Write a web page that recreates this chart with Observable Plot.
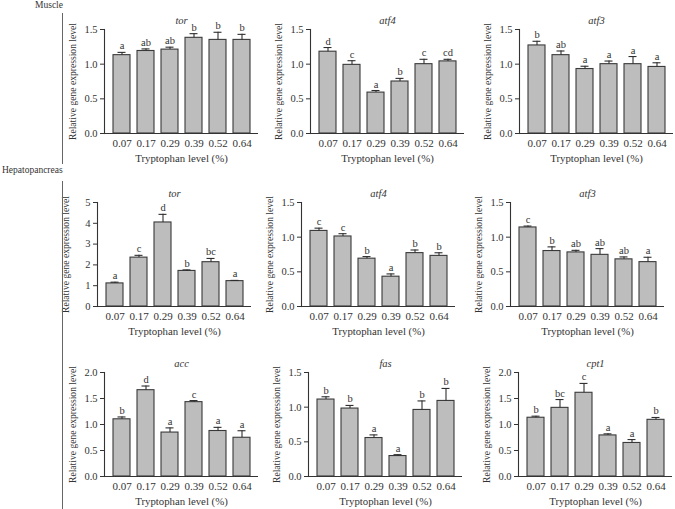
<!DOCTYPE html>
<html>
<head>
<meta charset="utf-8">
<script src="https://cdn.jsdelivr.net/npm/d3@7"></script>
<script src="https://cdn.jsdelivr.net/npm/@observablehq/plot@0.6"></script>
<style>
  body { margin: 0; background: #fff; }
  #fig { position: relative; width: 675px; height: 509px; background: #fff; overflow: hidden;
         font-family: "Liberation Serif", "DejaVu Serif", serif; color: #333; }
  .panel { position: absolute; }
  .section { position: absolute; font-size: 9.5px; line-height: 1; color: #333; }
  .divider { position: absolute; width: 1px; background: #666; }
</style>
</head>
<body>
<div id="fig"></div>
<script>
// Tryptophan levels (%) shared by every panel
const levels = ["0.07", "0.17", "0.29", "0.39", "0.52", "0.64"];

// Muscle
const muscleTorMean = [1.13, 1.19, 1.21, 1.38, 1.35, 1.35];
const muscleTorErr = [0.04, 0.03, 0.035, 0.06, 0.11, 0.08];
const muscleTorSig = ["a", "ab", "ab", "b", "b", "b"];

const muscleAtf4Mean = [1.18, 0.99, 0.59, 0.75, 1.00, 1.04];
const muscleAtf4Err = [0.06, 0.06, 0.03, 0.045, 0.07, 0.03];
const muscleAtf4Sig = ["d", "c", "a", "b", "c", "cd"];

const muscleAtf3Mean = [1.27, 1.13, 0.93, 1.00, 1.00, 0.96];
const muscleAtf3Err = [0.06, 0.06, 0.04, 0.045, 0.11, 0.06];
const muscleAtf3Sig = ["b", "ab", "a", "a", "a", "a"];

// Hepatopancreas
const hepTorMean = [1.11, 2.35, 4.04, 1.71, 2.13, 1.22];
const hepTorErr = [0.06, 0.11, 0.39, 0.05, 0.18, 0.035];
const hepTorSig = ["a", "c", "d", "b", "bc", "a"];

const hepAtf4Mean = [1.09, 1.01, 0.69, 0.43, 0.77, 0.73];
const hepAtf4Err = [0.04, 0.04, 0.03, 0.04, 0.045, 0.045];
const hepAtf4Sig = ["c", "c", "b", "a", "b", "b"];

const hepAtf3Mean = [1.14, 0.80, 0.78, 0.745, 0.68, 0.64];
const hepAtf3Err = [0.02, 0.06, 0.03, 0.09, 0.035, 0.07];
const hepAtf3Sig = ["c", "b", "ab", "ab", "ab", "a"];

const hepAccMean = [1.10, 1.66, 0.845, 1.43, 0.875, 0.745];
const hepAccErr = [0.045, 0.08, 0.09, 0.03, 0.07, 0.135];
const hepAccSig = ["b", "d", "a", "c", "a", "a"];

const hepFasMean = [1.11, 0.98, 0.555, 0.295, 0.96, 1.09];
const hepFasErr = [0.04, 0.045, 0.045, 0.02, 0.13, 0.18];
const hepFasSig = ["b", "b", "a", "a", "b", "b"];

const hepCpt1Mean = [1.13, 1.32, 1.61, 0.79, 0.645, 1.09];
const hepCpt1Err = [0.03, 0.16, 0.18, 0.03, 0.065, 0.045];
const hepCpt1Sig = ["b", "bc", "c", "a", "a", "b"];

// y-axis tick sets
const ticks15 = [0, 0.5, 1.0, 1.5];
const ticks20 = [0, 0.5, 1.0, 1.5, 2.0];
const ticks5 = [0, 1, 2, 3, 4, 5];

const xTitle = "Tryptophan level (%)";
const yTitle = "Relative gene expression level";

const panels = [
  {gene: "tor",  mean: muscleTorMean,  err: muscleTorErr,  sig: muscleTorSig,  ticks: ticks15, fmt: ".1f", axisX: 104, frameTop: 29},
  {gene: "atf4", mean: muscleAtf4Mean, err: muscleAtf4Err, sig: muscleAtf4Sig, ticks: ticks15, fmt: ".1f", axisX: 310, frameTop: 29},
  {gene: "atf3", mean: muscleAtf3Mean, err: muscleAtf3Err, sig: muscleAtf3Sig, ticks: ticks15, fmt: ".1f", axisX: 519, frameTop: 29},
  {gene: "tor",  mean: hepTorMean,  err: hepTorErr,  sig: hepTorSig,  ticks: ticks5,  fmt: "d",   axisX: 97,  frameTop: 202},
  {gene: "atf4", mean: hepAtf4Mean, err: hepAtf4Err, sig: hepAtf4Sig, ticks: ticks15, fmt: ".1f", axisX: 301, frameTop: 202},
  {gene: "atf3", mean: hepAtf3Mean, err: hepAtf3Err, sig: hepAtf3Sig, ticks: ticks15, fmt: ".1f", axisX: 510, frameTop: 202},
  {gene: "acc",  mean: hepAccMean,  err: hepAccErr,  sig: hepAccSig,  ticks: ticks20, fmt: ".1f", axisX: 104, frameTop: 372},
  {gene: "fas",  mean: hepFasMean,  err: hepFasErr,  sig: hepFasSig,  ticks: ticks15, fmt: ".1f", axisX: 308, frameTop: 372},
  {gene: "cpt1", mean: hepCpt1Mean, err: hepCpt1Err, sig: hepCpt1Sig, ticks: ticks20, fmt: ".1f", axisX: 518, frameTop: 372}
];

const fig = document.getElementById("fig");
const ink = "#333";
const M = {left: 50, right: 6, top: 26, bottom: 36};
const frameW = 154, frameH = 104;

for (const p of panels) {
  const rows = levels.map((level, i) => ({level, mean: p.mean[i], hi: p.mean[i] + p.err[i], sig: p.sig[i]}));
  const yMax = p.ticks[p.ticks.length - 1];
  const chart = Plot.plot({
    width: M.left + frameW + M.right,
    height: M.top + frameH + M.bottom,
    marginLeft: M.left, marginRight: M.right, marginTop: M.top, marginBottom: M.bottom,
    style: {fontFamily: "'Liberation Serif', serif", fontSize: "10px", color: ink, background: "transparent"},
    x: {domain: levels, paddingInner: 0.31, paddingOuter: 0.35, axis: null},
    y: {domain: [0, yMax], axis: null},
    marks: [
      Plot.barY(rows, {x: "level", y: "mean", fill: "#bdbdbd", stroke: "#3a3a3a", strokeWidth: 1.1}),
      Plot.ruleX(rows, {x: "level", y1: "mean", y2: "hi", stroke: "#2e2e2e", strokeWidth: 1.1}),
      Plot.tickY(rows, {x: "level", y: "hi", stroke: "#2e2e2e", strokeWidth: 1.1, insetLeft: 4.5, insetRight: 4.5}),
      Plot.text(rows, {x: "level", y: "hi", text: "sig", dy: -3, lineAnchor: "bottom", fill: ink, fontSize: 10.5}),
      Plot.ruleY([0], {stroke: "#333", strokeWidth: 1.1}),
      Plot.frame({anchor: "left", stroke: "#333", strokeWidth: 1.1}),
      Plot.axisY({ticks: p.ticks, tickFormat: d3.format(p.fmt), tickSize: 4, tickPadding: 3, label: null, fontSize: 10.5, stroke: "#333"}),
      Plot.axisX({tickSize: 0, tickPadding: 6, label: null, fontSize: 11}),
      Plot.text([p.gene], {frameAnchor: "top", dy: -13, text: d => d, fontStyle: "italic", fontSize: 10.5, fill: ink}),
      Plot.text([xTitle], {frameAnchor: "bottom", dy: 28, text: d => d, fontSize: 10.8, fill: ink}),
      Plot.text([yTitle], {frameAnchor: "left", textAnchor: "middle", dx: -32, rotate: -90, text: d => d, fontSize: 9.6, fill: ink})
    ]
  });
  chart.classList.add("panel");
  chart.style.left = (p.axisX - M.left) + "px";
  chart.style.top = (p.frameTop - M.top) + "px";
  fig.appendChild(chart);
}

// Tissue labels and their divider lines
function addSection(text, left, top, lineTop, lineBottom) {
  const t = document.createElement("div");
  t.className = "section";
  t.textContent = text;
  t.style.left = left + "px";
  t.style.top = top + "px";
  fig.appendChild(t);
  const l = document.createElement("div");
  l.className = "divider";
  l.style.left = "62px";
  l.style.top = lineTop + "px";
  l.style.height = (lineBottom - lineTop) + "px";
  fig.appendChild(l);
}
addSection("Muscle", 35, 1, 13, 164);
addSection("Hepatopancreas", 2, 166, 181, 509);
</script>
</body>
</html>
